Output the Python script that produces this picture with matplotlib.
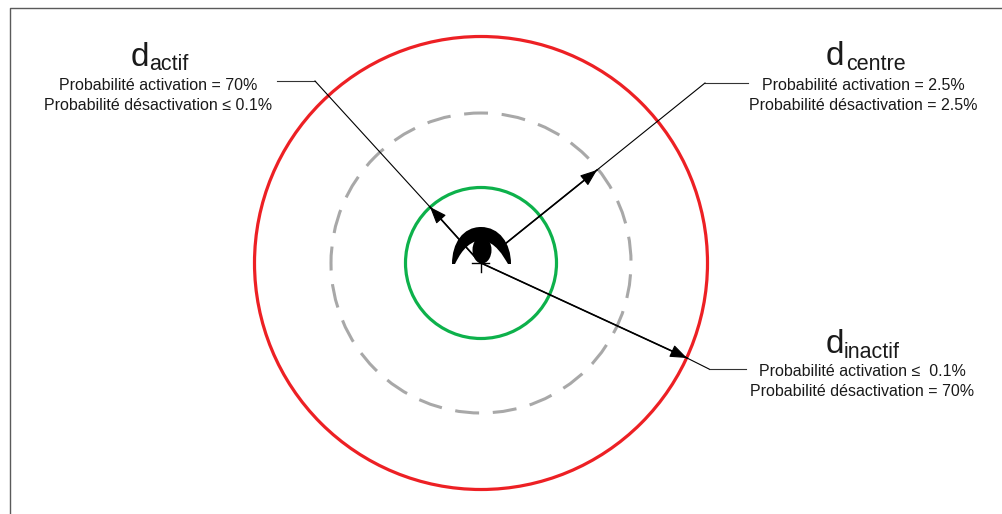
import matplotlib
matplotlib.use('Agg')
import matplotlib.pyplot as plt
from matplotlib.patches import Circle, Ellipse, PathPatch, Polygon
from matplotlib.path import Path

plt.rcParams['font.family'] = ['Liberation Sans', 'DejaVu Sans']

WIDTH, HEIGHT = 1003, 514
center = (481, 263)

# circle radii in pixels
radius_actif = 75.5
radius_centre = 150
radius_inactif = 226.5

subscripts = ['actif', 'centre', 'inactif']
title_pos = [(131, 66), (826, 65), (826, 353)]
sub_pos = [(149, 70), (846, 70), (844, 358)]
lines_text = [
    ['Probabilité activation = 70%', 'Probabilité désactivation ≤ 0.1%'],
    ['Probabilité activation = 2.5%', 'Probabilité désactivation = 2.5%'],
    ['Probabilité activation ≤  0.1%', 'Probabilité désactivation = 70%'],
]
text_x = [158.5, 863.5, 862]
text_y = [[85, 105], [86, 106], [372, 392]]

# leader lines: text end, elbow, arrow tip, inner end
leader_x = [[277, 315, 430, 475], [748, 705, 597, 500], [746, 709, 687, 481]]
leader_y = [[81, 81, 207, 257], [83, 83, 170, 248], [369, 369, 358, 263]]

fig = plt.figure(figsize=(WIDTH / 100, HEIGHT / 100), dpi=100)
ax = fig.add_axes([0, 0, 1, 1])
ax.set_xlim(0, WIDTH)
ax.set_ylim(HEIGHT, 0)
ax.axis('off')

# frame, open on the right and at the bottom
ax.plot([10.5, 10.5, WIDTH], [HEIGHT, 7.5, 7.5], color='#5a5a5a', lw=1.0)

ax.add_patch(Circle(center, radius_inactif, fill=False, ec='#ed2024', lw=2.3))
ax.add_patch(Circle(center, radius_centre, fill=False, ec='#a8a8a8', lw=2.2,
                    linestyle=(5.56, (7.855, 4.484))))
ax.add_patch(Circle(center, radius_actif, fill=False, ec='#0db14b', lw=2.3))

# the eye: crescent, pupil and small cross below
crescent = Path(
    [(452, 264), (452, 243), (463, 227), (481, 227), (499, 227), (511, 243), (511, 264), (508, 264),
     (503, 256), (496, 242), (481, 240), (466, 242), (459, 256), (455, 264), (452, 264)],
    [Path.MOVETO] + [Path.CURVE4] * 6 + [Path.LINETO] + [Path.CURVE4] * 6 + [Path.LINETO],
)
ax.add_patch(PathPatch(crescent, fc='black', ec='none', zorder=5))
ax.add_patch(Ellipse((482, 250), 19, 27, fc='black', ec='none', zorder=5))
ax.add_patch(Polygon([(475, 256), (489, 256), (483, 263), (480, 263)], fc='black', ec='none', zorder=5))
ax.plot([472, 489], [263, 263], color='black', lw=1.0, zorder=5)
ax.plot([481, 481], [258, 272], color='black', lw=1.0, zorder=5)

for xs, ys in zip(leader_x, leader_y):
    ax.plot(xs[:2], ys[:2], color='#333333', lw=0.8, zorder=4)
    ax.plot(xs[1:3], ys[1:3], color='black', lw=0.8, zorder=4)
    ax.plot(xs[2:], ys[2:], color='black', lw=1.2, zorder=4)
    ax.annotate('', xy=(xs[2], ys[2]), xytext=(xs[3], ys[3]), zorder=6,
                arrowprops=dict(arrowstyle='-|>,head_length=1.05,head_width=0.4', color='black',
                                lw=0.8, shrinkA=0, shrinkB=0))

for i, name in enumerate(subscripts):
    ax.text(title_pos[i][0], title_pos[i][1], 'd', fontsize=24, color='#1a1a1a', ha='left', va='baseline')
    ax.text(sub_pos[i][0], sub_pos[i][1], name, fontsize=15.5, color='#1a1a1a', ha='left', va='baseline')
    for line, y in zip(lines_text[i], text_y[i]):
        ax.text(text_x[i], y, line, fontsize=11.5, color='#1a1a1a', ha='center', va='center')

fig.savefig('out.png', dpi=100)
plt.close(fig)
